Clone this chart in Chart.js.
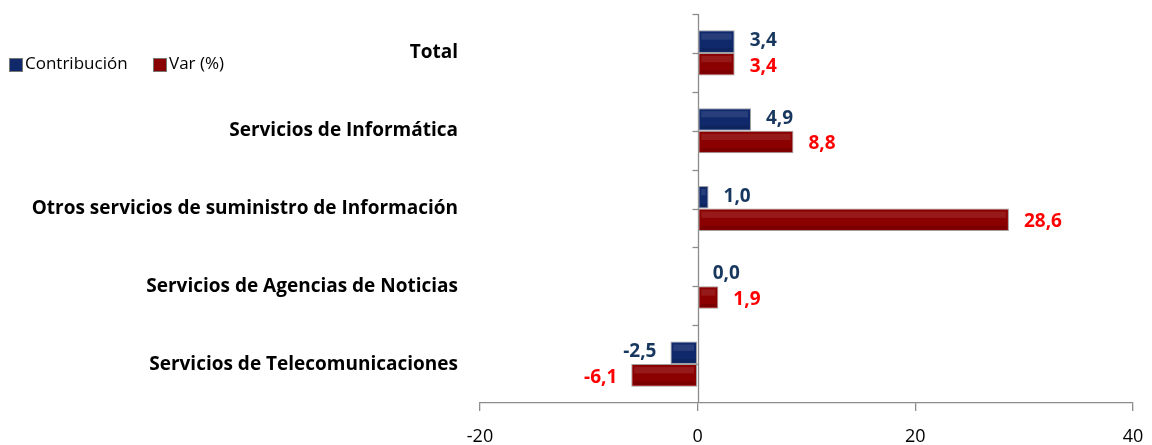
<!DOCTYPE html>
<html>
<head>
<meta charset="utf-8">
<script src="https://cdn.jsdelivr.net/npm/chart.js@4.4.1/dist/chart.umd.min.js"></script>
<style>
  html, body { margin: 0; padding: 0; background: #ffffff; }
  #wrap { width: 1152px; height: 445px; position: relative; }
</style>
</head>
<body>
<div id="wrap"><canvas id="c" width="1152" height="445"></canvas></div>
<script>
const categories = [
  'Total',
  'Servicios de Informática',
  'Otros servicios de suministro de Información',
  'Servicios de Agencias de Noticias',
  'Servicios de Telecomunicaciones'
];
const contribucion = [3.4, 4.9, 1.0, 0.0, -2.5];
const variacion = [3.4, 8.8, 28.6, 1.9, -6.1];
const seriesNames = ['Contribución', 'Var (%)'];
const xTicks = [-20, 0, 20, 40];

const FONT = '"Open Sans", Lato, "DejaVu Sans", sans-serif';
const BLUE = '#10296b';
const RED = '#8b0000';
const LABEL_COLORS = ['#17375e', '#ff0000'];

const fmt = v => v.toFixed(1).replace('.', ',');

const zeroLinePlugin = {
  id: 'zeroLine',
  beforeDatasetsDraw(chart) {
    const { ctx, chartArea } = chart;
    const xs = chart.scales.x, ys = chart.scales.y;
    const x0 = Math.round(xs.getPixelForValue(0)) + 0.5;
    ctx.save();
    ctx.strokeStyle = '#8c8c8c';
    ctx.lineWidth = 1.3;
    ctx.beginPath();
    ctx.moveTo(x0, chartArea.top);
    ctx.lineTo(x0, chartArea.bottom);
    ctx.stroke();
    const n = categories.length;
    const step = (ys.getPixelForValue(1) - ys.getPixelForValue(0)) / 2;
    for (let i = 0; i < n; i++) {
      const c = ys.getPixelForValue(i);
      [c - step, c].forEach(y => {
        ctx.beginPath();
        ctx.moveTo(x0 - 6, Math.round(y) + 0.5);
        ctx.lineTo(x0, Math.round(y) + 0.5);
        ctx.stroke();
      });
    }
    ctx.restore();
  }
};

const barShinePlugin = {
  id: 'barShine',
  afterDatasetsDraw(chart) {
    const { ctx } = chart;
    ctx.save();
    chart.data.datasets.forEach((ds, di) => {
      const meta = chart.getDatasetMeta(di);
      meta.data.forEach(el => {
        const left = Math.min(el.x, el.base), right = Math.max(el.x, el.base);
        const w = right - left;
        if (w < 6) return;
        const top = el.y - el.height / 2;
        ctx.fillStyle = 'rgba(255,255,255,0.10)';
        ctx.fillRect(left + 3, top + 3, w - 6, el.height * 0.28);
        ctx.fillStyle = 'rgba(0,0,0,0.12)';
        ctx.fillRect(left + 2, top + el.height - 5, w - 4, 3);
      });
    });
    ctx.restore();
  }
};

const valueLabelPlugin = {
  id: 'valueLabels',
  afterDatasetsDraw(chart) {
    const { ctx } = chart;
    ctx.save();
    ctx.font = 'bold 19px ' + FONT;
    ctx.textBaseline = 'middle';
    chart.data.datasets.forEach((ds, di) => {
      const meta = chart.getDatasetMeta(di);
      meta.data.forEach((el, i) => {
        const v = ds.data[i];
        ctx.fillStyle = LABEL_COLORS[di];
        const dy = di === 0 ? -1 : 2;
        if (v < 0) {
          ctx.textAlign = 'right';
          ctx.fillText(fmt(v), el.x - 14, el.y + dy);
        } else {
          ctx.textAlign = 'left';
          ctx.fillText(fmt(v), el.x + 15, el.y + dy);
        }
      });
    });
    ctx.restore();
  }
};

const legendPlugin = {
  id: 'customLegend',
  afterDraw(chart) {
    const { ctx } = chart;
    const items = [
      { x: 9, color: BLUE, text: chart.data.datasets[0].label },
      { x: 153, color: RED, text: chart.data.datasets[1].label }
    ];
    ctx.save();
    ctx.font = '17px ' + FONT;
    ctx.textBaseline = 'middle';
    ctx.textAlign = 'left';
    items.forEach(it => {
      ctx.fillStyle = '#777';
      ctx.fillRect(it.x, 58, 14, 14);
      ctx.fillStyle = it.color;
      ctx.fillRect(it.x + 1, 59, 12, 12);
      ctx.fillStyle = '#000';
      ctx.fillText(it.text, it.x + 16, 64);
    });
    ctx.restore();
  }
};

new Chart(document.getElementById('c'), {
  type: 'bar',
  data: {
    labels: categories,
    datasets: [
      { label: seriesNames[0], data: contribucion, backgroundColor: BLUE,
        borderColor: '#a0a0a0', borderWidth: 1, borderSkipped: false,
        categoryPercentage: 0.58, barPercentage: 1.0 },
      { label: seriesNames[1], data: variacion, backgroundColor: RED,
        borderColor: '#a0a0a0', borderWidth: 1, borderSkipped: false,
        categoryPercentage: 0.58, barPercentage: 1.0 }
    ]
  },
  options: {
    indexAxis: 'y',
    responsive: false,
    animation: false,
    layout: { padding: { top: 14, right: 19, left: 0, bottom: 0 } },
    plugins: { legend: { display: false }, tooltip: { enabled: false } },
    scales: {
      x: {
        min: xTicks[0], max: xTicks[xTicks.length - 1],
        afterBuildTicks(scale) { scale.ticks = xTicks.map(v => ({ value: v })); },
        afterFit(scale) { scale.height = 42; scale.paddingLeft = 0; scale.paddingRight = 0; },
        grid: { drawOnChartArea: false, drawTicks: true, tickLength: 8, color: '#8c8c8c', lineWidth: 1.3 },
        border: { display: true, color: '#8c8c8c', width: 1.3 },
        ticks: { color: '#000', font: { family: FONT, size: 18 }, padding: 15 }
      },
      y: {
        afterFit(scale) { scale.width = 480; scale.paddingTop = 0; scale.paddingBottom = 0; },
        grid: { display: false, drawTicks: false },
        border: { display: false },
        ticks: { color: '#000', font: { family: FONT, size: 19, weight: 'bold' }, padding: 22 }
      }
    }
  },
  plugins: [zeroLinePlugin, barShinePlugin, valueLabelPlugin, legendPlugin]
});
</script>
</body>
</html>
